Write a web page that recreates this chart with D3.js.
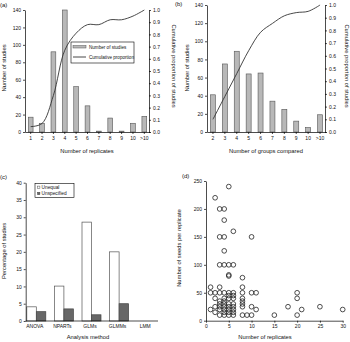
<!DOCTYPE html>
<html>
<head>
<meta charset="utf-8">
<script src="https://cdn.jsdelivr.net/npm/d3@7"></script>
<style>
	body { margin: 0; background: #fff; }
	svg { font-family: "Liberation Sans", Arial, sans-serif; }
</style>
</head>
<body>
<div id="chart"></div>
<script>

// (a) number of replicates
var replicateCategories = ["1", "2", "3", "4", "5", "6", "7", "8", "9", "10", ">10"];
var replicateStudies = [17, 10, 92, 140, 52, 30, 1, 16, 1, 10, 18];
var replicateCumulative = [0.044, 0.07, 0.30, 0.67, 0.81, 0.88, 0.88, 0.92, 0.92, 0.95, 1.0];

// (b) number of groups compared
var groupCategories = ["2", "3", "4", "5", "6", "7", "8", "9", "10", ">10"];
var groupStudies = [41, 75, 89, 64, 65, 34, 25, 12, 5, 19];
var groupCumulative = [0.10, 0.28, 0.46, 0.64, 0.785, 0.855, 0.915, 0.94, 0.95, 1.0];

// (c) analysis method
var methods = ["ANOVA", "NPARTs", "GLMs", "GLMMs", "LMM"];
var unequalPct = [4.1, 10.1, 28.6, 20.0, 0];
var unspecifiedPct = [2.7, 3.5, 1.8, 5.0, 0];

// (d) replicates vs seeds per replicate
var scatterReplicates = [
	1, 1, 1,
	2, 2, 2, 2, 2,
	3, 3, 3, 3, 3, 3, 3, 3, 3, 3,
	4, 4, 4, 4, 4, 4, 4, 4, 4, 4, 4, 4, 4,
	5, 5, 5, 5, 5, 5, 5, 5, 5, 5, 5, 5,
	6, 6, 6, 6, 6, 6, 6, 6, 6, 6,
	8, 8, 8, 8, 8, 8, 8, 8,
	9,
	10, 10, 10, 10,
	11, 11,
	15, 18, 20, 20, 20, 21, 25, 30
];
var scatterSeeds = [
	60, 50, 20,
	220, 50, 40, 25, 15,
	200, 150, 100, 60, 50, 35, 30, 25, 20, 10,
	200, 180, 150, 125, 100, 50, 40, 35, 30, 25, 20, 15, 10,
	240, 100, 82, 80, 50, 45, 40, 30, 25, 20, 15, 10,
	160, 100, 50, 45, 40, 30, 25, 20, 15, 10,
	77, 60, 50, 40, 35, 30, 25, 10,
	10,
	150, 50, 25, 10,
	50, 20,
	10, 25, 50, 40, 10, 20, 25, 20
];

var svg = d3.select("#chart").append("svg")
	.attr("width", 350)
	.attr("height", 342);

var tickFont = 5;
var titleFont = 5.8;

// shared axis look
function styleAxis(g) {
	g.selectAll("path, line").attr("stroke", "#000").attr("stroke-width", 0.7);
	g.selectAll("text").attr("font-size", tickFont).attr("fill", "#111");
}

function addText(x, y, txt, rotate, size) {
	var t = svg.append("text")
		.attr("text-anchor", "middle")
		.attr("font-size", size || titleFont)
		.attr("fill", "#111")
		.text(txt);
	if (rotate) t.attr("transform", "translate(" + x + "," + y + ") rotate(" + rotate + ")");
	else t.attr("x", x).attr("y", y);
	return t;
}

/*
 * Bars of study counts with the cumulative proportion line on a second axis
 */
function drawStudyPanel(cfg) {
	var x = d3.scaleBand().domain(cfg.categories).range(cfg.xRange);
	var y = d3.scaleLinear().domain([0, 140]).range(cfg.yRange);
	var y2 = d3.scaleLinear().domain([0, 1]).range(cfg.yRange);
	var barW = x.bandwidth() * 0.42;

	svg.append("g").selectAll("rect")
		.data(cfg.studies)
		.enter().append("rect")
		.attr("x", function (d, i) { return x(cfg.categories[i]) + (x.bandwidth() - barW) / 2; })
		.attr("y", function (d) { return y(d); })
		.attr("width", barW)
		.attr("height", function (d) { return y(0) - y(d); })
		.attr("fill", "#b8b8b8")
		.attr("stroke", "#555")
		.attr("stroke-width", 0.6);

	var line = d3.line()
		.x(function (d, i) { return x(cfg.categories[i]) + x.bandwidth() / 2; })
		.y(function (d) { return y2(d); })
		.curve(d3.curveCatmullRom.alpha(0.5));

	svg.append("path")
		.datum(cfg.cumulative)
		.attr("d", line)
		.attr("fill", "none")
		.attr("stroke", "#333")
		.attr("stroke-width", 0.9);

	svg.append("g")
		.attr("transform", "translate(0," + y(0) + ")")
		.call(d3.axisBottom(x).tickSize(2).tickSizeOuter(0).tickPadding(2))
		.call(styleAxis);

	svg.append("g")
		.attr("transform", "translate(" + cfg.xRange[0] + ",0)")
		.call(d3.axisLeft(y).tickValues(d3.range(0, 141, 20)).tickSize(2).tickSizeOuter(0).tickPadding(2))
		.call(styleAxis);

	svg.append("g")
		.attr("transform", "translate(" + cfg.rightX + ",0)")
		.call(d3.axisRight(y2).tickValues(d3.range(0, 1.01, 0.1)).tickFormat(d3.format(".1f"))
			.tickSize(2).tickSizeOuter(0).tickPadding(2))
		.call(styleAxis);

	addText(cfg.label[0], cfg.label[1], cfg.letter, null, 6).attr("text-anchor", "start");
	addText(cfg.leftTitleX, 68, "Number of studies", -90);
	addText(cfg.rightTitleX, 66, "Cumulative proportion of studies", 90);
	addText((cfg.xRange[0] + cfg.rightX) / 2, 153, cfg.xTitle);
}

drawStudyPanel({
	categories: replicateCategories, studies: replicateStudies, cumulative: replicateCumulative,
	xRange: [25, 150], rightX: 149, yRange: [132, 10],
	letter: "(a)", label: [0, 7], leftTitleX: 6, rightTitleX: 172,
	xTitle: "Number of replicates"
});

drawStudyPanel({
	categories: groupCategories, studies: groupStudies, cumulative: groupCumulative,
	xRange: [207, 326], rightX: 325, yRange: [132, 5],
	letter: "(b)", label: [175, 6], leftTitleX: 189, rightTitleX: 345,
	xTitle: "Number of groups compared"
});

// legend for (a)
var legA = svg.append("g").attr("transform", "translate(71,42)");
legA.append("rect").attr("width", 63).attr("height", 21)
	.attr("fill", "#fff").attr("stroke", "#000").attr("stroke-width", 0.6);
legA.append("rect").attr("x", 2).attr("y", 3.5).attr("width", 13).attr("height", 2.5)
	.attr("fill", "#b8b8b8").attr("stroke", "#555").attr("stroke-width", 0.5);
legA.append("line").attr("x1", 2).attr("x2", 15).attr("y1", 15).attr("y2", 15)
	.attr("stroke", "#333").attr("stroke-width", 0.9);
legA.append("text").attr("x", 18).attr("y", 6.8).attr("font-size", 4.6).attr("fill", "#111").text("Number of studies");
legA.append("text").attr("x", 18).attr("y", 16.8).attr("font-size", 4.6).attr("fill", "#111").text("Cumulative proportion");

/*
 * (c) grouped bars by analysis method
 */
var xc = d3.scaleBand().domain(methods).range([21, 159]);
var yc = d3.scaleLinear().domain([0, 40]).range([321, 182.7]);
var xSub = d3.scaleBand().domain(["unequal", "unspecified"]).range([0, 19]);
var subOffset = (xc.bandwidth() - 19) / 2 + 1.5;

var methodGroups = svg.append("g").selectAll("g")
	.data(methods)
	.enter().append("g")
	.attr("transform", function (d) { return "translate(" + (xc(d) + subOffset) + ",0)"; });

methodGroups.append("rect")
	.attr("x", xSub("unequal"))
	.attr("y", function (d, i) { return yc(unequalPct[i]); })
	.attr("width", xSub.bandwidth())
	.attr("height", function (d, i) { return yc(0) - yc(unequalPct[i]); })
	.attr("fill", "#fff").attr("stroke", "#555").attr("stroke-width", 0.7);

methodGroups.append("rect")
	.attr("x", xSub("unspecified"))
	.attr("y", function (d, i) { return yc(unspecifiedPct[i]); })
	.attr("width", xSub.bandwidth())
	.attr("height", function (d, i) { return yc(0) - yc(unspecifiedPct[i]); })
	.attr("fill", "#676767").attr("stroke", "#444").attr("stroke-width", 0.7);

svg.append("g")
	.attr("transform", "translate(0," + yc(0) + ")")
	.call(d3.axisBottom(xc).tickSize(0).tickPadding(3))
	.call(styleAxis)
	.select(".domain").attr("d", "M25.7,0H158");

svg.append("g")
	.attr("transform", "translate(25.7,0)")
	.call(d3.axisLeft(yc).tickValues(d3.range(0, 41, 5)).tickSize(2).tickSizeOuter(0).tickPadding(2))
	.call(styleAxis);

addText(0, 179, "(c)", null, 6).attr("text-anchor", "start");
addText(6, 251, "Percentage of studies", -90);
addText(88, 339, "Analysis method");

// legend for (c)
var legC = svg.append("g").attr("transform", "translate(35,183.5)");
legC.append("rect").attr("width", 39).attr("height", 14)
	.attr("fill", "#fff").attr("stroke", "#000").attr("stroke-width", 0.6);
legC.append("rect").attr("x", 2.5).attr("y", 2.6).attr("width", 2.4).attr("height", 2.4)
	.attr("fill", "#fff").attr("stroke", "#555").attr("stroke-width", 0.5);
legC.append("rect").attr("x", 2.5).attr("y", 8.8).attr("width", 2.4).attr("height", 2.4)
	.attr("fill", "#676767").attr("stroke", "#444").attr("stroke-width", 0.5);
legC.append("text").attr("x", 6.5).attr("y", 5.4).attr("font-size", 4.8).attr("fill", "#111").text("Unequal");
legC.append("text").attr("x", 6.5).attr("y", 11.6).attr("font-size", 4.8).attr("fill", "#111").text("Unspecified");

/*
 * (d) scatter of replicates against seeds per replicate
 */
var xd = d3.scaleLinear().domain([0, 30]).range([206, 342.7]);
var yd = d3.scaleLinear().domain([0, 250]).range([320.7, 181]);

svg.append("g").selectAll("circle")
	.data(scatterReplicates)
	.enter().append("circle")
	.attr("cx", function (d) { return xd(d); })
	.attr("cy", function (d, i) { return yd(scatterSeeds[i]); })
	.attr("r", 2.35)
	.attr("fill", "none")
	.attr("stroke", "#222")
	.attr("stroke-width", 0.8);

svg.append("g")
	.attr("transform", "translate(0," + yd(0) + ")")
	.call(d3.axisBottom(xd).tickValues(d3.range(0, 31, 5)).tickSize(2).tickSizeOuter(0).tickPadding(2))
	.call(styleAxis);

svg.append("g")
	.attr("transform", "translate(206,0)")
	.call(d3.axisLeft(yd).tickValues(d3.range(0, 251, 50)).tickSize(2).tickSizeOuter(0).tickPadding(2))
	.call(styleAxis);

addText(182, 178, "(d)", null, 6).attr("text-anchor", "start");
addText(181, 248, "Number of seeds per replicate", -90);
addText(265, 339, "Number of replicates");

</script>
</body>
</html>
